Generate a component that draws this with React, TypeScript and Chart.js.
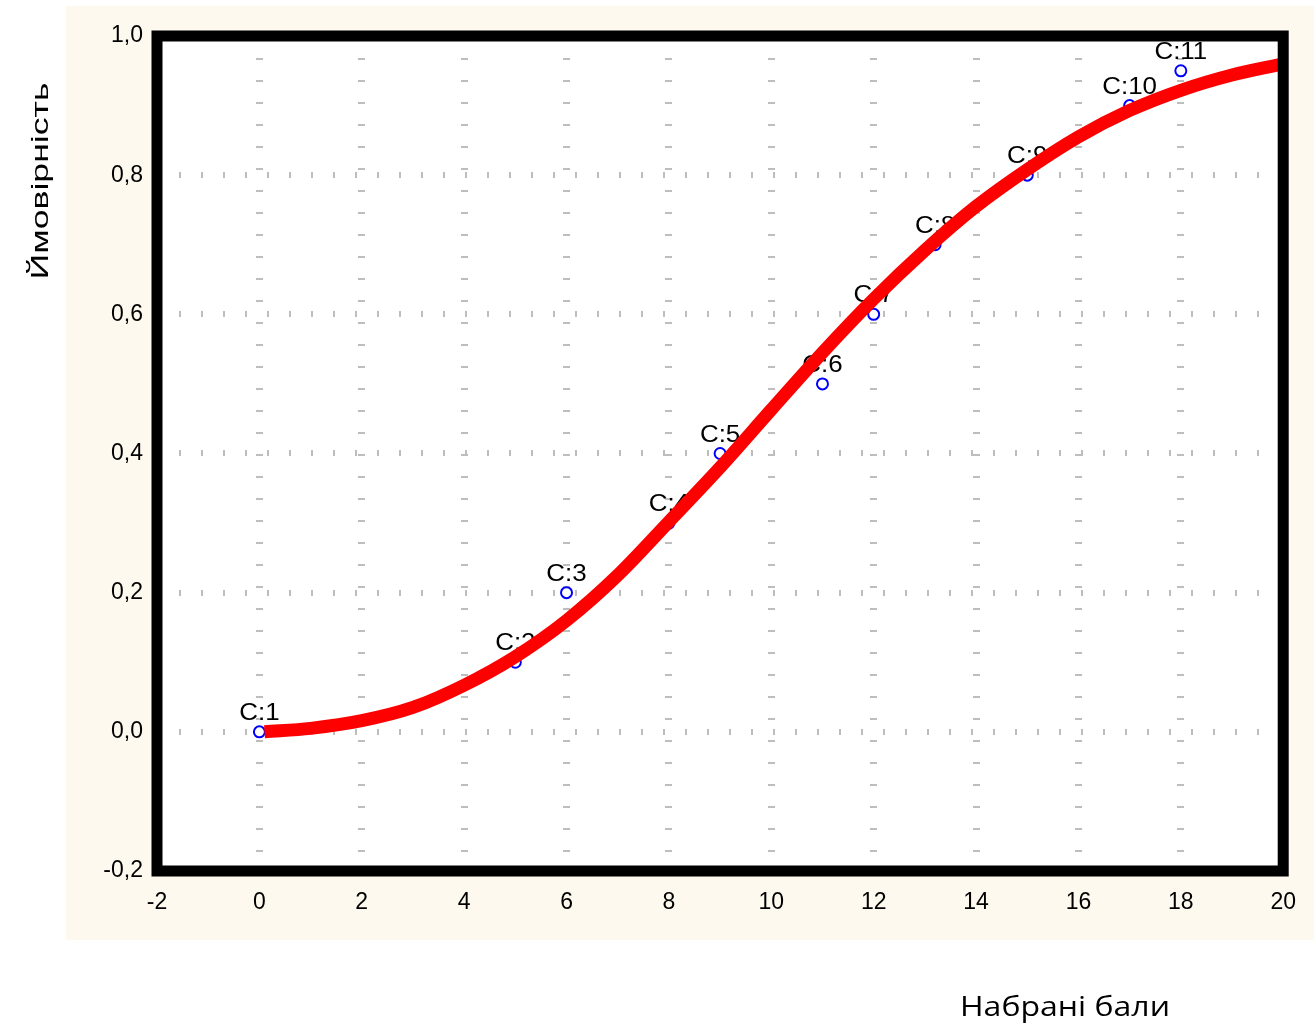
import React, { useEffect, useRef } from 'react';
import { Chart, registerables } from 'chart.js';

Chart.register(...registerables);

const pointLabels = ['C:1', 'C:2', 'C:3', 'C:4', 'C:5', 'C:6', 'C:7', 'C:8', 'C:9', 'C:10', 'C:11'];
const pointX = [0, 5, 6, 8, 9, 11, 12, 13.2, 15, 17, 18];
const pointY = [0, 0.1, 0.2, 0.3, 0.4, 0.5, 0.6, 0.7, 0.8, 0.9, 0.95];

const curveX = [0.1, 1, 2, 3, 4, 5, 6, 7, 8, 9, 10, 11, 12, 13, 14, 15, 16, 17, 18, 19, 20];
const curveY = [0, 0.005, 0.016, 0.035, 0.067, 0.108, 0.16, 0.225, 0.302, 0.38, 0.463, 0.545, 0.622, 0.692, 0.755, 0.808, 0.855, 0.893, 0.922, 0.944, 0.96];

const xTicks = [-2, 0, 2, 4, 6, 8, 10, 12, 14, 16, 18, 20];
const yTicks = [-0.2, 0, 0.2, 0.4, 0.6, 0.8, 1.0];

const yTitle = 'Ймовірність';
const xTitle = 'Набрані бали';

const tickFont = '"Liberation Sans", Arial, sans-serif';

const decor = {
  id: 'decor',
  beforeDraw(chart: any) {
    const { ctx, chartArea: a } = chart;
    ctx.save();
    ctx.fillStyle = '#fdf9ee';
    ctx.fillRect(66, 6, 1248, 934);
    ctx.fillStyle = '#ffffff';
    ctx.fillRect(a.left, a.top, a.right - a.left, a.bottom - a.top);
    ctx.restore();
  },
  afterDatasetDraw(chart: any, args: any) {
    if (args.index !== 1) return;
    const { ctx } = chart;
    const meta = chart.getDatasetMeta(1);
    ctx.fillStyle = '#000000';
    ctx.font = '24px "Liberation Sans", Arial, sans-serif';
    ctx.textAlign = 'center';
    ctx.textBaseline = 'alphabetic';
    meta.data.forEach((el: any, i: number) => {
      ctx.save();
      ctx.translate(el.x, el.y - 12);
      ctx.scale(1.08, 1);
      ctx.fillText(pointLabels[i], 0, 0);
      ctx.restore();
    });
  },
  afterDatasetsDraw(chart: any) {
    const { ctx, chartArea: a } = chart;
    ctx.save();
    ctx.strokeStyle = '#000000';
    ctx.lineWidth = 11;
    ctx.setLineDash([]);
    ctx.strokeRect(a.left, a.top, a.right - a.left, a.bottom - a.top);
    ctx.restore();
  },
  afterDraw(chart: any) {
    const { ctx } = chart;
    ctx.save();
    ctx.fillStyle = '#000000';
    ctx.font = '24px "Liberation Sans", Arial, sans-serif';
    ctx.textAlign = 'center';
    ctx.textBaseline = 'alphabetic';
    const wy = ctx.measureText(yTitle).width;
    ctx.translate(48, 181);
    ctx.rotate(-Math.PI / 2);
    ctx.scale(197 / wy, 1);
    ctx.fillText(yTitle, 0, 0);
    ctx.restore();
    ctx.save();
    ctx.fillStyle = '#000000';
    ctx.font = '28px "Open Sans", "Noto Sans", sans-serif';
    ctx.textAlign = 'center';
    ctx.textBaseline = 'alphabetic';
    const wx = ctx.measureText(xTitle).width;
    ctx.translate(1065, 1016);
    ctx.scale(210 / wx, 1);
    ctx.fillText(xTitle, 0, 0);
    ctx.restore();
  },
};

const fmt = (v: number) => v.toFixed(1).replace('.', ',');

export default function App() {
  const ref = useRef<HTMLCanvasElement | null>(null);
  useEffect(() => {
    if (!ref.current) return;
    const chart = new Chart(ref.current, {
      type: 'line',
      data: {
        datasets: [
          {
            type: 'line',
            data: curveX.map((x, i) => ({ x, y: curveY[i] })),
            borderColor: '#ff0000',
            borderWidth: 13,
            borderCapStyle: 'butt',
            pointRadius: 0,
            cubicInterpolationMode: 'monotone',
            fill: false,
            order: 0,
          },
          {
            type: 'scatter',
            data: pointX.map((x, i) => ({ x, y: pointY[i] })),
            borderColor: '#0000ff',
            backgroundColor: '#ffffff',
            pointRadius: 5.5,
            pointBorderWidth: 2,
            borderWidth: 2,
            showLine: false,
            order: 1,
          },
        ],
      } as any,
      options: {
        responsive: false,
        animation: false,
        layout: { padding: { left: 0, top: 36, right: 29, bottom: 93 } },
        plugins: { legend: { display: false }, tooltip: { enabled: false } },
        scales: {
          x: {
            type: 'linear',
            min: -2,
            max: 20,
            afterFit: (s: any) => { s.height = 60; },
            afterBuildTicks: (s: any) => { s.ticks = xTicks.map((v) => ({ value: v })); },
            ticks: {
              color: '#000000',
              padding: 18,
              font: { family: tickFont, size: 23 },
              callback: (v: any) => String(v),
              maxRotation: 0,
              autoSkip: false,
            },
            grid: { color: '#bdbdbd', lineWidth: 7, drawTicks: false },
            border: { display: false, dash: [2, 20] },
          },
          y: {
            type: 'linear',
            min: -0.2,
            max: 1.0,
            afterFit: (s: any) => { s.width = 157; },
            afterBuildTicks: (s: any) => { s.ticks = yTicks.map((v) => ({ value: v })); },
            ticks: {
              color: '#000000',
              padding: 14,
              font: { family: tickFont, size: 23 },
              callback: (v: any) => fmt(Number(v)),
              autoSkip: false,
            },
            grid: { color: '#bdbdbd', lineWidth: 6, drawTicks: false },
            border: { display: false, dash: [2, 20] },
          },
        },
      } as any,
      plugins: [decor],
    });
    return () => chart.destroy();
  }, []);
  return (
    <div style={{ position: 'absolute', left: 0, top: 0, width: 1314, height: 1024 }}>
      <canvas ref={ref} width={1314} height={1024} style={{ display: 'block' }} />
    </div>
  );
}
